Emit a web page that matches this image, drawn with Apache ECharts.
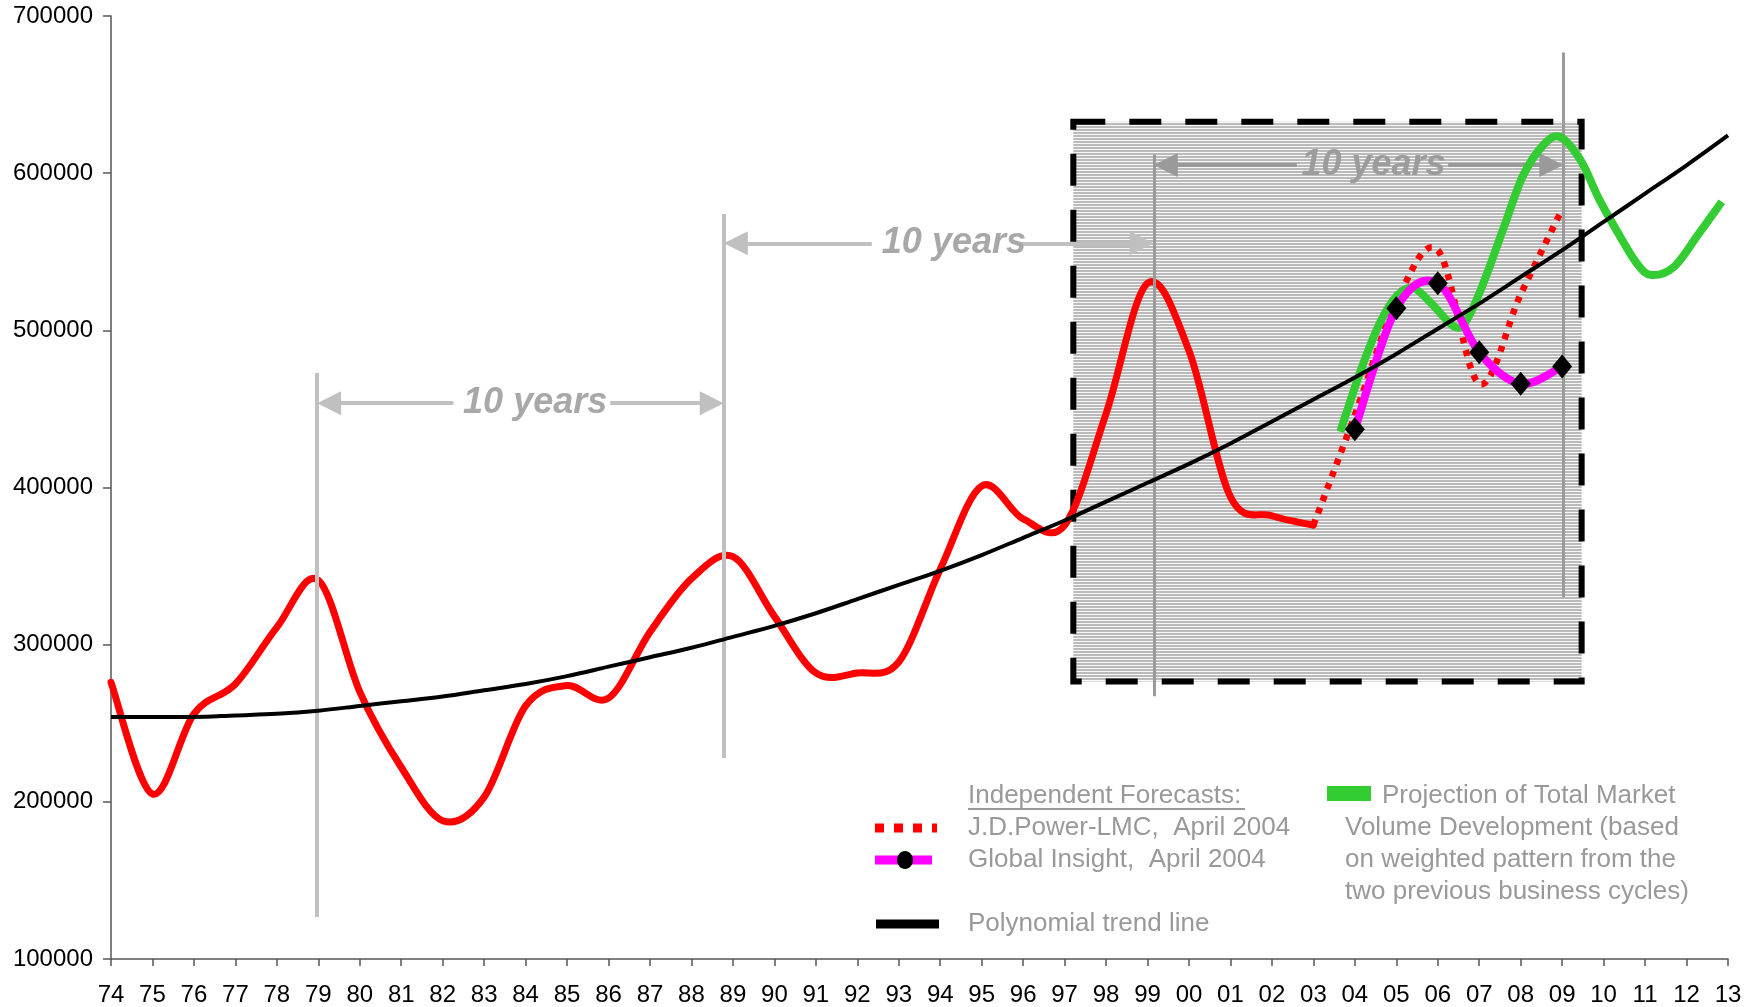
<!DOCTYPE html>
<html>
<head>
<meta charset="utf-8">
<script src="https://cdn.jsdelivr.net/npm/echarts@6/dist/echarts.min.js"></script>
<style>
html,body{margin:0;padding:0;background:#ffffff;}
#chart{width:1756px;height:1007px;}
</style>
</head>
<body>
<div id="chart"></div>
<script>
// ---------------- DATA ----------------
const actualYears  = [1974,1975,1976,1977,1978,1979,1980,1981,1982,1983,1984,1985,1986,1987,1988,1989,1990,1991,1992,1993,1994,1995,1996,1997,1998,1999,2000,2001,2002,2003];
const actualValues = [276000,205000,256000,275000,311000,341000,270000,222000,188000,203000,261000,274000,266000,308000,342000,356000,318000,282000,282000,289000,348000,401000,380000,376000,447000,530000,487000,394000,382000,376000];

const trendYears  = [1974,1975,1976,1977,1978,1979,1980,1981,1982,1983,1984,1985,1986,1987,1988,1989,1990,1991,1992,1993,1994,1995,1996,1997,1998,1999,2000,2001,2002,2003,2004,2005,2006,2007,2008,2009,2010,2011,2012,2013];
const trendValues = [254000,254000,254000,255000,256000,258000,261000,264000,267000,271000,275000,280000,286000,292000,298000,305000,312000,320000,329000,338000,347000,357000,368000,379000,391000,403000,415000,428000,442000,456000,470000,485000,501000,517000,534000,551000,569000,587000,605000,624000];

const jdpYears  = [2003,2004,2005,2006,2007,2008,2009];
const jdpValues = [376000,446000,518000,551000,466000,523000,577000];

const giYears  = [2004,2005,2006,2007,2008,2009];
const giValues = [437000,514000,530000,486000,466000,477000];

const projYears  = [2003.65,2004.15,2004.6,2005.0,2005.4,2005.85,2006.4,2006.7,2007.1,2007.6,2008.05,2008.55,2008.95,2009.45,2009.9,2010.4,2010.8,2011.15,2011.7,2012.3,2012.85];
const projValues = [435500,475000,504500,521600,527000,517000,502300,506600,530000,566000,598000,618000,623000,608000,583000,559600,542600,535200,540500,561700,581800];

const yearMin = 1974, yearMax = 2013;
const valMin = 100000, valMax = 700000, valStep = 100000;

// annotation positions (data space)
const refLines = [
  {x:1978.97, top:472800, bottom:126800, light:true},
  {x:1988.78, top:574000, bottom:227900, light:true},
  {x:1999.15, top:611800, bottom:267200, light:false},
  {x:2009.03, top:676700, bottom:330100, light:false}
];
const spans = [
  {y:453640, x0:1978.97, x1:1988.78, textX:1984.23, gapL:1982.26, gapR:1986.04, light:true},
  {y:555370, x0:1988.78, x1:1999.15, textX:1994.33, gapL:1992.35, gapR:1995.85, light:true},
  {y:605200, x0:1999.15, x1:2009.03, textX:2004.45, gapL:2002.60, gapR:2006.25, light:false}
];
const spanLabel = '10 years';
const forecastBox = {x0:1997.21, x1:2009.47, top:632750, bottom:276600};

// ---------------- CHART ----------------
const FONT = '"Liberation Sans", Arial, Helvetica, sans-serif';
const pair = (xs, vs) => xs.map((x, i) => [x, vs[i]]);

// smooth Bezier path (Excel-like, Catmull-Rom tangents) through pixel points
function smoothPath(pts) {
  const n = pts.length, t = 1 / 6;
  let d = 'M' + pts[0][0] + ' ' + pts[0][1];
  for (let i = 0; i < n - 1; i++) {
    const p0 = pts[Math.max(i - 1, 0)], p1 = pts[i], p2 = pts[i + 1], p3 = pts[Math.min(i + 2, n - 1)];
    const c1x = p1[0] + (p2[0] - p0[0]) * t, c1y = p1[1] + (p2[1] - p0[1]) * t;
    const c2x = p2[0] - (p3[0] - p1[0]) * t, c2y = p2[1] - (p3[1] - p1[1]) * t;
    d += ' C' + c1x + ' ' + c1y + ' ' + c2x + ' ' + c2y + ' ' + p2[0] + ' ' + p2[1];
  }
  return d;
}
function curveSeries(name, xs, vs, z, style) {
  return {
    type:'custom', name:name, z:z, silent:true, clip:false,
    data: pair(xs, vs),
    encode:{x:0, y:1},
    renderItem: (params, api) => {
      if (params.dataIndex !== 0) return null;
      const pts = xs.map((x, i) => api.coord([x, vs[i]]));
      return {type:'path', shape:{pathData: smoothPath(pts)},
              style:Object.assign({fill:null, lineJoin:'round'}, style)};
    }
  };
}

const pc = document.createElement('canvas');
pc.width = 4; pc.height = 3;
const pg = pc.getContext('2d');
pg.fillStyle = '#bababa'; pg.fillRect(0, 0, 4, 2);
pg.fillStyle = '#f8f8f8'; pg.fillRect(0, 2, 4, 1);
const hatch = {image: pc, repeat: 'repeat'};

const markLines = [];
refLines.forEach(r => {
  markLines.push([
    {coord:[r.x, r.top], symbol:'none', lineStyle:{color: r.light ? '#c0c0c0' : '#9a9a9a', width: r.light ? 4 : 3, type:'solid'}},
    {coord:[r.x, r.bottom], symbol:'none'}
  ]);
});
spans.forEach(s => {
  const ls = {color: s.light ? '#c0c0c0' : '#9a9a9a', width: 4, type:'solid'};
  markLines.push([
    {coord:[s.x0 + 0.29, s.y], symbol:'triangle', symbolSize:[24, 24], lineStyle: ls},
    {coord:[s.gapL, s.y], symbol:'none'}
  ]);
  markLines.push([
    {coord:[s.gapR, s.y], symbol:'none', lineStyle: ls},
    {coord:[s.x1 - 0.29, s.y], symbol:'triangle', symbolSize:[24, 24]}
  ]);
});
const markPoints = spans.map(s => ({
  coord:[s.textX, s.y],
  symbol:'circle', symbolSize:0,
  label:{show:true, position:'inside', formatter: spanLabel, color: s.light ? '#a8a8a8' : '#9c9c9c',
         fontSize:36, fontWeight:'bold', fontStyle:'italic', fontFamily: FONT}
}));

const legendText = (x, y, t) => ({
  type:'text', x:x, y:y, z:100,
  style:{text:t, font:'26px ' + FONT, fill:'#999999', verticalAlign:'middle', align:'left'}
});

const option = {
  animation:false,
  backgroundColor:'#ffffff',
  grid:{left:111, right:28, top:16, bottom:48, containLabel:false},
  xAxis:{
    type:'value', min:yearMin, max:yearMax, interval:1,
    axisLine:{show:true, onZero:false, lineStyle:{color:'#555555', width:1.5}},
    axisTick:{show:true, length:7, lineStyle:{color:'#555555', width:1.5}},
    splitLine:{show:false},
    axisLabel:{margin:24, color:'#000', fontSize:24, fontFamily:FONT,
      formatter: v => String(Math.round(v) % 100).padStart(2, '0')}
  },
  yAxis:{
    type:'value', min:valMin, max:valMax, interval:valStep,
    axisLine:{show:true, onZero:false, lineStyle:{color:'#555555', width:1.5}},
    axisTick:{show:true, length:8, lineStyle:{color:'#555555', width:1.5}},
    splitLine:{show:false},
    axisLabel:{margin:18, color:'#000', fontSize:24, fontFamily:FONT, formatter: v => String(v)}
  },
  series:[
    {type:'line', name:'box', data:[], z:1, silent:true,
     markArea:{silent:true,
       itemStyle:{color:hatch, borderColor:'#000', borderWidth:6, borderType:[32,24]},
       data:[[{coord:[forecastBox.x0, forecastBox.top]}, {coord:[forecastBox.x1, forecastBox.bottom]}]]}},
    {type:'line', name:'annotations', data:[], z:2, silent:true,
     markLine:{silent:true, symbol:['none','none'], label:{show:false}, data: markLines},
     markPoint:{silent:true, data: markPoints}},
    curveSeries('Actual', actualYears, actualValues, 3, {stroke:'#ff0000', lineWidth:7, lineCap:'round'}),
    curveSeries('J.D.Power-LMC', jdpYears, jdpValues, 4, {stroke:'#ff0000', lineWidth:6.5, lineDash:[6,7]}),
    curveSeries('Projection', projYears, projValues, 5, {stroke:'#33cc33', lineWidth:8}),
    curveSeries('Global Insight', giYears, giValues, 6, {stroke:'#ff00ff', lineWidth:8}),
    {type:'scatter', name:'Global Insight points', data:pair(giYears, giValues), z:7, silent:true,
     symbol:'diamond', symbolSize:[20,24], itemStyle:{color:'#000000', opacity:1}},
    {type:'line', name:'Trend', data:pair(trendYears, trendValues), z:8,
     smooth:0.35, symbol:'none', lineStyle:{color:'#000000', width:4}}
  ],
  graphic:[
    legendText(968, 796, 'Independent Forecasts:'),
    {type:'line', z:100, shape:{x1:968, y1:809, x2:1245, y2:809}, style:{stroke:'#999999', lineWidth:2}},
    {type:'line', z:100, shape:{x1:875, y1:828, x2:937, y2:828}, style:{stroke:'#ff0000', lineWidth:9, lineDash:[9,10]}},
    legendText(968, 828, 'J.D.Power-LMC,  April 2004'),
    {type:'line', z:100, shape:{x1:875, y1:860, x2:932, y2:860}, style:{stroke:'#ff00ff', lineWidth:9}},
    {type:'ellipse', z:101, shape:{cx:905, cy:860, rx:8, ry:9}, style:{fill:'#000000'}},
    legendText(968, 860, 'Global Insight,  April 2004'),
    {type:'line', z:100, shape:{x1:876, y1:924, x2:939, y2:924}, style:{stroke:'#000000', lineWidth:9}},
    legendText(968, 924, 'Polynomial trend line'),
    {type:'rect', z:100, shape:{x:1327, y:786, width:44, height:15}, style:{fill:'#33cc33'}},
    legendText(1382, 796, 'Projection of Total Market'),
    legendText(1345, 828, 'Volume Development (based'),
    legendText(1345, 860, 'on weighted pattern from the'),
    legendText(1345, 892, 'two previous business cycles)')
  ]
};

const chart = echarts.init(document.getElementById('chart'), null, {renderer:'canvas'});
chart.setOption(option);
</script>
</body>
</html>
